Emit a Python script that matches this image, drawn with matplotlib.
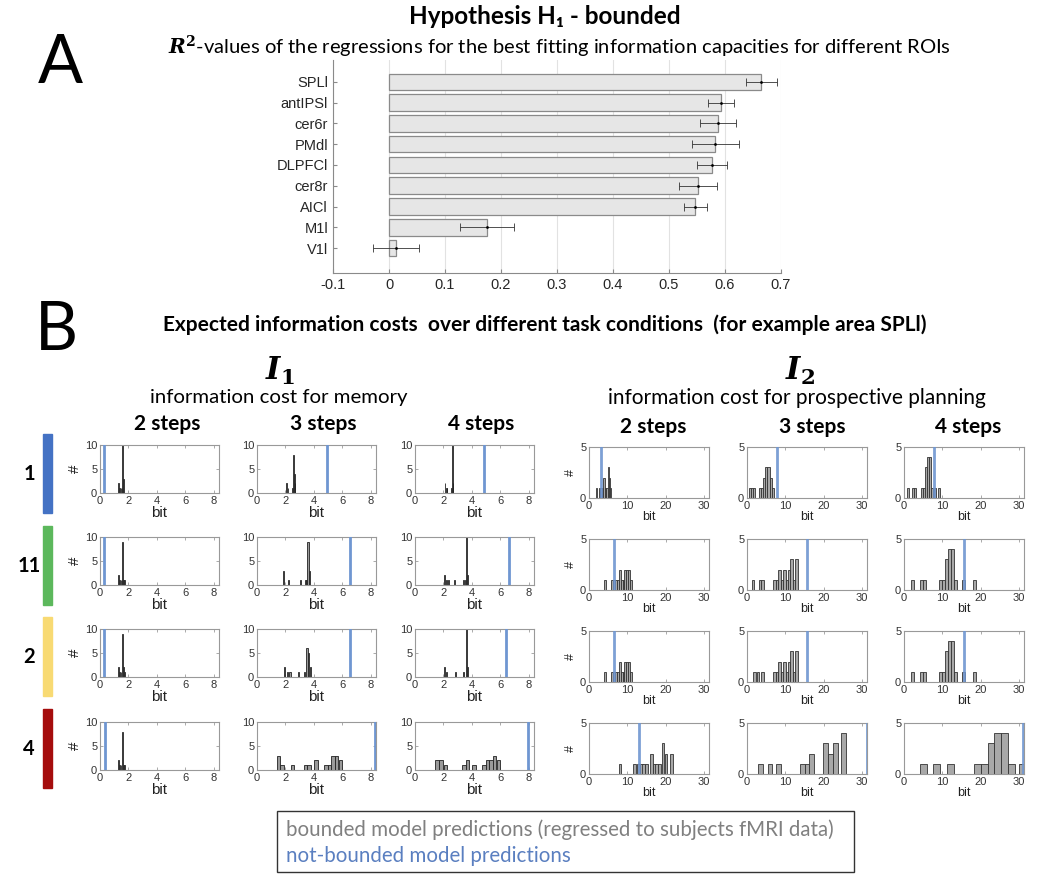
import matplotlib
matplotlib.use("Agg")
import matplotlib.pyplot as plt
from matplotlib.patches import Rectangle

plt.rcParams['mathtext.fontset'] = 'dejavuserif'

W, H = 1038, 874

# ---------------- Panel A data ----------------
roi_labels = ["SPLl", "antIPSl", "cer6r", "PMdl", "DLPFCl", "cer8r", "AICl", "M1l", "V1l"]
roi_r2 = [0.665, 0.593, 0.588, 0.583, 0.577, 0.551, 0.547, 0.175, 0.012]
roi_err = [0.028, 0.023, 0.032, 0.042, 0.027, 0.034, 0.021, 0.049, 0.041]
a_xticks = [-0.1, 0, 0.1, 0.2, 0.3, 0.4, 0.5, 0.6, 0.7]

# ---------------- Panel B data ----------------
step_labels = ["2 steps", "3 steps", "4 steps"]
row_labels = ["1", "11", "2", "4"]
row_colors = ["#4472c4", "#5cb85c", "#f8da73", "#a50d0d"]

# I1: information cost for memory  [row][col]
mem_centers = [
    [[1.30, 1.36, 1.48, 1.55, 1.60, 1.65], [2.07, 2.19, 2.51, 2.58, 2.63, 2.67], [2.12, 2.21, 2.26, 2.56, 2.63, 2.67]],
    [[1.29, 1.36, 1.48, 1.55, 1.60, 1.65, 1.70], [1.86, 2.23, 3.07, 3.40, 3.49, 3.58, 3.70], [2.05, 2.20, 2.33, 2.79, 3.44, 3.53, 3.60, 3.72]],
    [[1.29, 1.36, 1.48, 1.60, 1.65, 1.70], [1.93, 2.12, 2.33, 2.93, 3.33, 3.51, 3.63, 3.74], [2.05, 2.20, 2.86, 3.44, 3.60, 3.72]],
    [[1.29, 1.36, 1.48, 1.60, 1.65, 1.72], [1.51, 1.74, 2.50, 3.42, 3.67, 4.15, 4.85, 5.10, 5.35, 5.60, 5.86], [1.56, 1.81, 2.16, 3.44, 3.68, 4.16, 4.87, 5.11, 5.35, 5.60, 5.86]],
]
mem_counts = [
    [[2, 1, 1, 1, 10, 3], [2, 1, 1, 8, 4, 2], [2, 1, 1, 1, 10, 2]],
    [[2, 1, 1, 1, 9, 1, 1], [3, 1, 1, 1, 1, 9, 3], [2, 1, 1, 1, 1, 1, 10, 2]],
    [[2, 1, 1, 9, 2, 1], [2, 1, 1, 1, 1, 6, 5, 2], [2, 1, 1, 1, 10, 2]],
    [[2, 1, 1, 8, 1, 1], [3, 1, 1, 1, 1, 2, 1, 1, 3, 3, 2], [2, 2, 1, 1, 2, 1, 1, 2, 2, 3, 2]],
]
mem_width = [[0.05, 0.05, 0.05], [0.05, 0.09, 0.08], [0.05, 0.09, 0.08], [0.05, 0.25, 0.25]]
mem_blue = [[0.28, 4.93, 4.84], [0.28, 6.56, 6.58], [0.30, 6.53, 6.40], [0.33, 8.33, 7.98]]

# I2: information cost for prospective planning  [row][col]
plan_centers = [
    [[2.0, 2.7, 3.1, 3.5, 3.9, 4.3, 4.7, 5.05, 5.35, 5.65], [0.7, 1.25, 1.8, 3.4, 3.95, 4.5, 5.05, 5.6, 6.15, 6.7], [1.13, 2.44, 2.96, 4.8, 5.3, 5.8, 6.35, 6.85, 7.35, 8.05, 9.1]],
    [[4.1, 6.0, 6.5, 7.0, 7.5, 8.0, 8.5, 9.0, 9.5, 10.0, 10.5, 11.0], [1.5, 3.35, 4.0, 7.2, 7.8, 8.45, 9.1, 9.75, 10.4, 11.0, 11.65, 12.3, 12.95], [2.1, 4.6, 5.4, 9.4, 10.2, 11.0, 11.8, 12.6, 13.4, 15.6, 18.4]],
    [[4.1, 6.0, 6.5, 7.0, 7.5, 8.0, 8.5, 9.0, 9.5, 10.0, 10.5, 11.0], [1.9, 2.9, 4.0, 7.2, 7.8, 8.45, 9.1, 9.75, 10.4, 11.0, 11.65, 12.3, 12.95], [2.1, 4.6, 5.4, 9.4, 10.2, 11.0, 11.8, 12.6, 13.4, 15.6, 18.4]],
    [[8.1, 11.9, 12.9, 13.6, 14.3, 15.0, 16.3, 17.0, 17.7, 18.4, 19.3, 20.1, 21.6], [3.6, 6.0, 8.3, 14.4, 15.65, 16.9, 20.5, 21.8, 23.05, 25.2], [5.0, 8.4, 12.1, 19.2, 21.0, 22.7, 24.4, 26.2, 28.0, 30.9]],
]
plan_counts = [
    [[1, 1, 1, 1, 2, 1, 1, 3, 2, 1], [1, 1, 1, 1, 1, 2, 3, 3, 2, 1], [1, 1, 1, 1, 1, 3, 4, 4, 1, 1, 1]],
    [[1, 1, 1, 1, 1, 2, 1, 1, 2, 2, 2, 1], [1, 1, 1, 1, 1, 2, 1, 2, 1, 2, 3, 1, 3], [1, 1, 1, 1, 1, 3, 4, 4, 1, 1, 1]],
    [[1, 1, 1, 1, 1, 2, 1, 1, 2, 2, 2, 1], [1, 1, 1, 1, 1, 2, 1, 2, 1, 2, 3, 1, 3], [1, 1, 1, 1, 1, 3, 4, 4, 1, 1, 1]],
    [[1, 1, 1, 1, 1, 1, 2, 1, 1, 1, 3, 2, 2], [1, 1, 1, 1, 1, 2, 3, 2, 3, 4], [1, 1, 1, 1, 1, 3, 4, 4, 1, 1]],
]
plan_width = [[0.38, 0.55, 0.5], [0.5, 0.65, 0.8], [0.5, 0.65, 0.8], [0.75, 1.25, 1.8]]
plan_blue = [[3.2, 7.9, 7.9], [6.5, 15.7, 15.6], [6.5, 15.7, 15.6], [13.0, 31.25, 31.0]]

legend_lines = ["bounded model predictions (regressed to subjects fMRI data)", "not-bounded model predictions"]

# ---------------- helpers ----------------
def box(l, t, w, h):
    return [l / W, 1 - (t + h) / H, w / W, h / H]

def ftext(x, y, s, **kw):
    fig.text(x / W, 1 - y / H, s, **kw)

CAL = ['Lato', 'DejaVu Sans']
ARIAL = ['Liberation Sans', 'DejaVu Sans']
BLUE = '#6f96d1'

fig = plt.figure(figsize=(W / 100, H / 100), dpi=100)

# ---------------- Panel A ----------------
axA = fig.add_axes(box(333, 60, 448, 213))
ypos = list(range(len(roi_labels), 0, -1))
axA.barh(ypos, roi_r2, height=0.8, color='#e6e6e6', edgecolor='#8a8a8a', linewidth=0.9, zorder=2)
axA.errorbar(roi_r2, ypos, xerr=roi_err, fmt='.', ms=2, color='black', ecolor='#333333',
             elinewidth=0.6, capsize=3, capthick=0.6, zorder=3)
axA.set_xlim(-0.1, 0.7)
axA.set_ylim(-0.2, 10.05)
axA.set_xticks(a_xticks)
axA.set_xticklabels(["-0.1", "0", "0.1", "0.2", "0.3", "0.4", "0.5", "0.6", "0.7"])
axA.set_yticks(ypos)
axA.set_yticklabels(roi_labels)
axA.grid(axis='x', color='#e2e2e2', linewidth=0.8, zorder=0)
axA.set_axisbelow(True)
for s in ['top', 'right']:
    axA.spines[s].set_visible(False)
for s in ['left', 'bottom']:
    axA.spines[s].set_color('#8a8a8a')
axA.tick_params(axis='both', labelsize=10.5, colors='#262626', length=3, direction='in')
axA.tick_params(axis='both', color='#8a8a8a')
for lab in axA.get_xticklabels() + axA.get_yticklabels():
    lab.set_family(ARIAL)

ftext(38, 64, "A", fontsize=48, family=CAL, ha='left', va='center')
ftext(545, 17, "Hypothesis H₁ - bounded", fontsize=17.5, weight='bold', family=CAL, ha='center', va='center')
ftext(559, 47, r"$\mathbfit{R}^{\mathbf{2}}$-values of the regressions for the best fitting information capacities for different ROIs",
      fontsize=14.5, family=CAL, ha='center', va='center')

# ---------------- Panel B texts ----------------
ftext(35, 331, "B", fontsize=48, family=CAL, ha='left', va='center')
ftext(545, 325, "Expected information costs  over different task conditions  (for example area SPLl)",
      fontsize=15, weight='bold', family=CAL, ha='center', va='center')
ftext(280, 371, r"$\mathbfit{I}_{\mathbf{1}}$", fontsize=22, ha='center', va='center')
ftext(800, 371, r"$\mathbfit{I}_{\mathbf{2}}$", fontsize=22, ha='center', va='center')
ftext(279, 398, "information cost for memory", fontsize=14.7, family=CAL, ha='center', va='center')
ftext(797, 398, "information cost for prospective planning", fontsize=15, family=CAL, ha='center', va='center')

mem_lefts = [100, 257, 415]
mem_tops = [445, 537, 629, 722]
plan_lefts = [589, 747, 904]
plan_tops = [447, 539, 631, 723]
bar_tops = [434, 526, 617, 709]
mem_head_x = [167, 323, 481]
plan_head_x = [653, 812, 968]

for c in range(3):
    ftext(mem_head_x[c], 424, step_labels[c], fontsize=15, weight='bold', family=CAL, ha='center', va='center')
    ftext(plan_head_x[c], 427, step_labels[c], fontsize=15, weight='bold', family=CAL, ha='center', va='center')

for r in range(4):
    ftext(29, bar_tops[r] + 40, row_labels[r], fontsize=14.5, weight='bold', family=CAL, ha='center', va='center')
    fig.patches.append(Rectangle((43 / W, 1 - (bar_tops[r] + 79) / H), 9 / W, 79 / H,
                                 transform=fig.transFigure, color=row_colors[r]))


def style_hist(ax, xlim, ylim, xt, yt, first, tick_fs, bit_fs):
    ax.set_xlim(*xlim)
    ax.set_ylim(*ylim)
    ax.set_xticks(xt)
    ax.set_yticks(yt)
    ax.tick_params(direction='in', length=2, width=0.5, top=True, right=True,
                   labelsize=tick_fs, colors='#333333', pad=2)
    ax.tick_params(color='#888888')
    for s in ax.spines.values():
        s.set_color('#999999')
        s.set_linewidth(0.8)
    for lab in ax.get_xticklabels() + ax.get_yticklabels():
        lab.set_family(ARIAL)
    ax.set_xlabel('bit', fontsize=bit_fs, family=ARIAL, labelpad=0, color='#222222')
    if first:
        ax.set_ylabel('#', fontsize=bit_fs, family=ARIAL, labelpad=2, color='#222222')


for r in range(4):
    for c in range(3):
        ax = fig.add_axes(box(mem_lefts[c], mem_tops[r], 119, 48))
        ax.bar(mem_centers[r][c], mem_counts[r][c], width=mem_width[r][c], color='#9a9a9a',
               edgecolor='#222222', linewidth=0.6, zorder=2)
        ax.axvline(mem_blue[r][c], color=BLUE, linewidth=2, zorder=3)
        style_hist(ax, (0, 8.37), (0, 10), [0, 2, 4, 6, 8], [0, 5, 10], c == 0, 8, 11)

        ax = fig.add_axes(box(plan_lefts[c], plan_tops[r], 120, 51))
        ax.bar(plan_centers[r][c], plan_counts[r][c], width=plan_width[r][c], color='#a8a8a8',
               edgecolor='#333333', linewidth=0.6, zorder=2)
        ax.axvline(plan_blue[r][c], color=BLUE, linewidth=2, zorder=3, alpha=0.9)
        style_hist(ax, (0, 31.3), (0, 5), [0, 10, 20, 30], [0, 5], c == 0, 8, 9)

# ---------------- Legend box ----------------
fig.patches.append(Rectangle((277 / W, 1 - 872 / H), 577 / W, 61 / H, transform=fig.transFigure,
                             facecolor='white', edgecolor='#333333', linewidth=1))
ftext(286, 830, legend_lines[0], fontsize=14.8, family=CAL, color='#808080', ha='left', va='center')
ftext(286, 856, legend_lines[1], fontsize=14.8, family=CAL, color='#5a7fc0', ha='left', va='center')

fig.savefig('out.png', dpi=100)
